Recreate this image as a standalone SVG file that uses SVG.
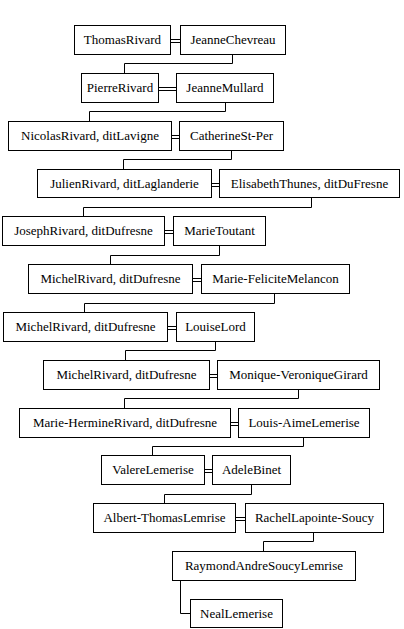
<svg xmlns="http://www.w3.org/2000/svg" width="404" height="629" viewBox="0 0 404 629">
<style>
rect.n{fill:#fff;stroke:#000;stroke-width:1}
text{font-family:'Liberation Serif','DejaVu Serif',serif;font-size:13px;fill:#000;text-anchor:middle}
.c{fill:none;stroke:#000;stroke-width:1}
</style>
<rect width="404" height="629" fill="#fff"/>
<g id="connectors" class="c">
<path d="M170 39.5H180M170 42.5H180"/>
<path d="M158 87.5H176M158 90.5H176"/>
<path d="M171 135.5H179M171 138.5H179"/>
<path d="M211 183.5H219M211 186.5H219"/>
<path d="M164 230.5H173M164 233.5H173"/>
<path d="M192 278.5H201M192 281.5H201"/>
<path d="M167 326.5H176M167 329.5H176"/>
<path d="M209 374.5H217M209 377.5H217"/>
<path d="M230 422.5H238M230 425.5H238"/>
<path d="M204 469.5H212M204 472.5H212"/>
<path d="M235 517.5H245M235 520.5H245"/>
<path d="M232.5 54V63.5H124.5V73"/>
<path d="M225.5 102V111.5H89.5V121"/>
<path d="M231.5 150V159.5H123.5V169"/>
<path d="M311.5 198V207.5H83.5V216"/>
<path d="M219.5 245V255.5H110.5V264"/>
<path d="M274.5 293V303.5H84.5V312"/>
<path d="M215.5 341V350.5H125.5V360"/>
<path d="M298.5 389V398.5H124.5V408"/>
<path d="M303.5 437V446.5H152.5V455"/>
<path d="M251.5 484V494.5H164.5V503"/>
<path d="M313.5 532V541.5H263.5V551"/>
<path d="M180.5 580V613.5H190"/>
</g>
<g id="n1"><rect class="n" x="74.5" y="25.5" width="96" height="29"/><text x="122.5" y="44">ThomasRivard</text></g>
<g id="n2"><rect class="n" x="180.5" y="25.5" width="105" height="29"/><text x="233" y="44">JeanneChevreau</text></g>
<g id="n3"><rect class="n" x="81.5" y="73.5" width="77" height="29"/><text x="120" y="92">PierreRivard</text></g>
<g id="n4"><rect class="n" x="176.5" y="73.5" width="97" height="29"/><text x="225" y="92">JeanneMullard</text></g>
<g id="n5"><rect class="n" x="8.5" y="121.5" width="163" height="29"/><text x="90" y="140">NicolasRivard, ditLavigne</text></g>
<g id="n6"><rect class="n" x="179.5" y="121.5" width="104" height="29"/><text x="231.5" y="140">CatherineSt-Per</text></g>
<g id="n7"><rect class="n" x="37.5" y="169.5" width="174" height="28"/><text x="124.5" y="188">JulienRivard, ditLaglanderie</text></g>
<g id="n8"><rect class="n" x="219.5" y="169.5" width="180" height="28"/><text x="309.5" y="188">ElisabethThunes, ditDuFresne</text></g>
<g id="n9"><rect class="n" x="2.5" y="216.5" width="162" height="29"/><text x="83.5" y="235">JosephRivard, ditDufresne</text></g>
<g id="n10"><rect class="n" x="173.5" y="216.5" width="92" height="29"/><text x="219.5" y="235">MarieToutant</text></g>
<g id="n11"><rect class="n" x="28.5" y="264.5" width="164" height="29"/><text x="110.5" y="283">MichelRivard, ditDufresne</text></g>
<g id="n12"><rect class="n" x="201.5" y="264.5" width="148" height="29"/><text x="275.5" y="283">Marie-FeliciteMelancon</text></g>
<g id="n13"><rect class="n" x="3.5" y="312.5" width="164" height="29"/><text x="85.5" y="331">MichelRivard, ditDufresne</text></g>
<g id="n14"><rect class="n" x="176.5" y="312.5" width="78" height="29"/><text x="215.5" y="331">LouiseLord</text></g>
<g id="n15"><rect class="n" x="43.5" y="360.5" width="166" height="29"/><text x="126.5" y="379">MichelRivard, ditDufresne</text></g>
<g id="n16"><rect class="n" x="217.5" y="360.5" width="162" height="29"/><text x="298.5" y="379">Monique-VeroniqueGirard</text></g>
<g id="n17"><rect class="n" x="19.5" y="408.5" width="211" height="29"/><text x="125" y="427">Marie-HermineRivard, ditDufresne</text></g>
<g id="n18"><rect class="n" x="238.5" y="408.5" width="131" height="29"/><text x="304" y="427">Louis-AimeLemerise</text></g>
<g id="n19"><rect class="n" x="101.5" y="455.5" width="103" height="29"/><text x="153" y="474">ValereLemerise</text></g>
<g id="n20"><rect class="n" x="212.5" y="455.5" width="78" height="29"/><text x="251.5" y="474">AdeleBinet</text></g>
<g id="n21"><rect class="n" x="93.5" y="503.5" width="142" height="29"/><text x="164.5" y="522">Albert-ThomasLemrise</text></g>
<g id="n22"><rect class="n" x="245.5" y="503.5" width="138" height="29"/><text x="314.5" y="522">RachelLapointe-Soucy</text></g>
<g id="n23"><rect class="n" x="172.5" y="551.5" width="183" height="29"/><text x="264" y="570">RaymondAndreSoucyLemrise</text></g>
<g id="n24"><rect class="n" x="190.5" y="599.5" width="92" height="28"/><text x="236.5" y="618">NealLemerise</text></g>
</svg>
